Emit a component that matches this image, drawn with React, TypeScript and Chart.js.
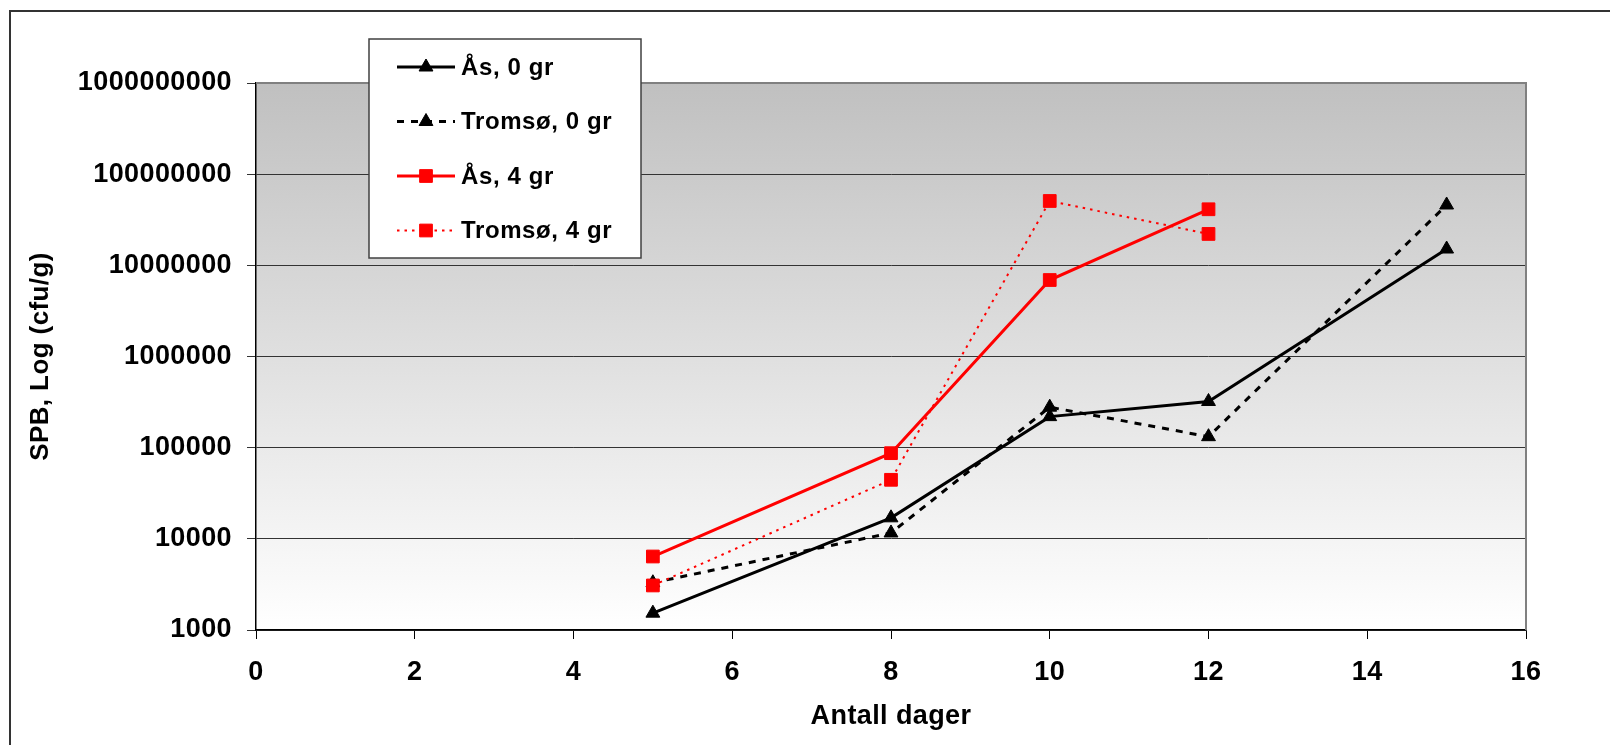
import React, { useEffect, useRef } from "react";
import { Chart, registerables } from "chart.js";

Chart.register(...registerables);

const seriesLabels = ["Ås, 0 gr", "Tromsø, 0 gr", "Ås, 4 gr", "Tromsø, 4 gr"];
const days0 = [5, 8, 10, 12, 15];
const asZero = [1530, 17000, 219000, 321000, 15100000];
const tromsoZero = [3300, 11600, 278000, 132000, 45900000];
const days4 = [5, 8, 10, 12];
const asFour = [6400, 87000, 6900000, 41200000];
const tromsoFour = [3080, 44400, 50800000, 22100000];
const yTicks = [1000, 10000, 100000, 1000000, 10000000, 100000000, 1000000000];
const xTitle = "Antall dager";
const yTitle = "SPB, Log (cfu/g)";

const FONT = '"Liberation Sans", Arial, sans-serif';

const styles = [
  { color: "#000000", dash: [] as number[], shape: "triangle", width: 3 },
  { color: "#000000", dash: [7, 7], shape: "triangle", width: 3 },
  { color: "#ff0000", dash: [] as number[], shape: "rect", width: 3 },
  { color: "#ff0000", dash: [2.5, 5], shape: "rect", width: 2 },
];

function toPts(xs: number[], ys: number[]) {
  return xs.map((x, i) => ({ x, y: ys[i] }));
}

const spacingPlugin = {
  id: "spacing",
  beforeLayout(chart: any) {
    (chart.ctx as any).letterSpacing = "0.4px";
  },
  beforeDraw(chart: any) {
    (chart.ctx as any).letterSpacing = "0.4px";
  },
};

const bgPlugin = {
  id: "bgPlugin",
  beforeDraw(chart: any) {
    const { ctx, chartArea } = chart;
    const { left, top, right, bottom } = chartArea;
    ctx.save();
    const g = ctx.createLinearGradient(0, top, 0, bottom);
    g.addColorStop(0, "#c0c0c0");
    g.addColorStop(1, "#ffffff");
    ctx.fillStyle = g;
    ctx.fillRect(left, top, right - left, bottom - top);
    ctx.strokeStyle = "#333333";
    ctx.lineWidth = 2;
    ctx.beginPath();
    ctx.moveTo(10, chart.height + 5);
    ctx.lineTo(10, 11);
    ctx.lineTo(chart.width + 5, 11);
    ctx.stroke();
    ctx.restore();
  },
  beforeDatasetsDraw(chart: any) {
    const { ctx, chartArea } = chart;
    ctx.save();
    ctx.strokeStyle = "#808080";
    ctx.lineWidth = 2;
    ctx.beginPath();
    ctx.moveTo(chartArea.right, chartArea.top);
    ctx.lineTo(chartArea.right, chartArea.bottom);
    ctx.stroke();
    ctx.beginPath();
    ctx.moveTo(chartArea.left, chartArea.top);
    ctx.lineTo(chartArea.right + 1, chartArea.top);
    ctx.stroke();
    ctx.restore();
  },
};

function drawMarker(ctx: CanvasRenderingContext2D, shape: string, x: number, y: number, color: string) {
  ctx.fillStyle = color;
  ctx.strokeStyle = color;
  ctx.lineWidth = 1;
  ctx.setLineDash([]);
  ctx.beginPath();
  if (shape === "triangle") {
    const r = 8;
    ctx.moveTo(x, y - r);
    ctx.lineTo(x + r * Math.sin((2 * Math.PI) / 3), y + r * 0.5);
    ctx.lineTo(x - r * Math.sin((2 * Math.PI) / 3), y + r * 0.5);
    ctx.closePath();
  } else {
    const s = 9 * Math.SQRT1_2;
    ctx.rect(x - s, y - s, 2 * s, 2 * s);
  }
  ctx.fill();
  ctx.stroke();
}

const legendPlugin = {
  id: "boxLegend",
  afterDraw(chart: any) {
    const { ctx, chartArea } = chart;
    const bx = chartArea.left + 113;
    const by = chartArea.top - 44;
    const bw = 272;
    const bh = 219;
    ctx.save();
    ctx.fillStyle = "#ffffff";
    ctx.fillRect(bx, by, bw, bh);
    ctx.strokeStyle = "#404040";
    ctx.lineWidth = 1.5;
    ctx.setLineDash([]);
    ctx.strokeRect(bx, by, bw, bh);
    seriesLabels.forEach((label, i) => {
      const st = styles[i];
      const cy = by + 28 + i * 54.5;
      ctx.strokeStyle = st.color;
      ctx.lineWidth = st.width;
      ctx.setLineDash(st.dash);
      ctx.beginPath();
      ctx.moveTo(bx + 28, cy);
      ctx.lineTo(bx + 86, cy);
      ctx.stroke();
      drawMarker(ctx, st.shape, bx + 57, cy, st.color);
      ctx.fillStyle = "#000000";
      ctx.font = `bold 24px ${FONT}`;
      (ctx as any).letterSpacing = "0.6px";
      ctx.textAlign = "left";
      ctx.textBaseline = "middle";
      ctx.fillText(label, bx + 92, cy + 1);
    });
    ctx.restore();
  },
};

export default function App() {
  const ref = useRef<HTMLCanvasElement | null>(null);

  useEffect(() => {
    if (!ref.current) return;
    const series = [toPts(days0, asZero), toPts(days0, tromsoZero), toPts(days4, asFour), toPts(days4, tromsoFour)];
    const datasets = series.map((data, i) => ({
      label: seriesLabels[i],
      data,
      borderColor: styles[i].color,
      backgroundColor: styles[i].color,
      borderWidth: styles[i].width,
      borderDash: styles[i].dash,
      pointStyle: styles[i].shape,
      pointRadius: styles[i].shape === "triangle" ? 8 : 9,
      pointBorderWidth: 1,
      pointBackgroundColor: styles[i].color,
      pointBorderColor: styles[i].color,
      tension: 0,
      fill: false,
      order: i >= 2 ? 0 : 1,
    }));

    const chart = new Chart(ref.current, {
      type: "line",
      data: { datasets },
      plugins: [spacingPlugin, bgPlugin, legendPlugin],
      options: {
        animation: false,
        responsive: true,
        maintainAspectRatio: false,
        layout: { padding: { left: 0, top: 83, right: 84, bottom: 0 } },
        plugins: {
          legend: { display: false },
          tooltip: { enabled: false },
        },
        scales: {
          x: {
            type: "linear",
            min: 0,
            max: 16,
            ticks: {
              stepSize: 2,
              color: "#000",
              padding: 17,
              font: { family: FONT, size: 27, weight: "bold" },
            },
            grid: {
              drawOnChartArea: false,
              drawTicks: true,
              tickLength: 9,
              color: "#000",
              lineWidth: 1,
            },
            border: { display: true, color: "#000", width: 1.5 },
            title: {
              display: true,
              text: xTitle,
              color: "#000",
              padding: { top: 0, bottom: 12 },
              font: { family: FONT, size: 27, weight: "bold" },
            },
            afterFit(scale: any) {
              scale.height = 115;
            },
          },
          y: {
            type: "logarithmic",
            min: 1000,
            max: 1000000000,
            afterBuildTicks(scale: any) {
              scale.ticks = yTicks.map((v) => ({ value: v }));
            },
            ticks: {
              color: "#000",
              padding: 15,
              font: { family: FONT, size: 27, weight: "bold" },
              callback: (v: any) => String(v),
            },
            grid: {
              drawTicks: true,
              tickLength: 9,
              color: "#333",
              lineWidth: 1,
            },
            border: { display: true, color: "#000", width: 1.5 },
            title: {
              display: true,
              text: yTitle,
              color: "#000",
              padding: { top: 25, bottom: 0 },
              font: { family: FONT, size: 26, weight: "bold" },
            },
            afterFit(scale: any) {
              scale.width = 256;
            },
          },
        },
      },
    } as any);
    return () => chart.destroy();
  }, []);

  return (
    <div style={{ position: "fixed", left: 0, top: 0, width: 1610, height: 745, background: "#fff" }}>
      <canvas ref={ref} />
    </div>
  );
}
